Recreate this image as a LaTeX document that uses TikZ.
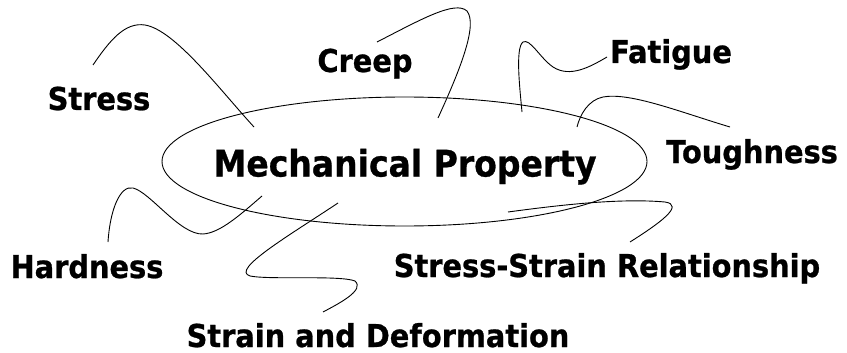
\documentclass[tikz,border=0pt]{standalone}
\usepackage{fontspec}
\setmainfont{DejaVu Sans}[FakeStretch=0.915, BoldFeatures={FakeBold=0.8}]
\newfontfamily\mainfam{DejaVu Sans}[FakeStretch=0.905, BoldFeatures={FakeBold=0.8}]
\tikzset{
  lbl/.style={font=\fontsize{31.5}{36}\selectfont\bfseries, inner sep=0pt, anchor=base},
  mainlbl/.style={font=\mainfam\fontsize{36.5}{42}\selectfont\bfseries, inner sep=0pt, anchor=base},
  conn/.style={draw=black, line width=0.9pt},
}
\begin{document}
\begin{tikzpicture}[x=1pt,y=-1pt]
\useasboundingbox (0,0) rectangle (847,353);
\draw[conn] (404.5,161.5) ellipse [x radius=242.5, y radius=64.5];
\node[mainlbl] (main) at (405,176.5) {Mechanical Property};
\node[lbl] (stress) at (99,110) {Stress};
\node[lbl] (creep) at (365,72) {Creep};
\node[lbl] (fatigue) at (671,63) {Fatigue};
\node[lbl] (tough) at (752,163) {Toughness};
\node[lbl] (hard) at (87,278) {Hardness};
\node[lbl] (ssr) at (607,277) {Stress-Strain Relationship};
\node[lbl] (strain) at (378,347) {Strain and Deformation};

\coordinate (s1) at (93,65);
\coordinate (s2) at (254,127);
\draw[conn] (s1) .. controls (110,40) and (125,22) .. (145,25) .. controls (175,30) and (220,90) .. (s2);

\coordinate (c1) at (377,42);
\coordinate (c2) at (438,118);
\draw[conn] (c1) .. controls (420,20) and (455,0) .. (467,11) .. controls (478,25) and (460,70) .. (c2);

\coordinate (f1) at (607,57);
\coordinate (f2) at (522,112);
\draw[conn] (f1) .. controls (590,67) and (570,78) .. (553,67) .. controls (540,58) and (530,38) .. (523,42) .. controls (515,48) and (520,90) .. (f2);

\coordinate (t1) at (730,127);
\coordinate (t2) at (577,127);
\draw[conn] (t1) .. controls (680,112) and (630,92) .. (603,97) .. controls (588,100) and (580,115) .. (t2);

\coordinate (h1) at (108,242);
\coordinate (h2) at (262,196);
\draw[conn] (h1) .. controls (110,210) and (120,185) .. (133,188) .. controls (150,192) and (180,235) .. (203,234) .. controls (220,233) and (240,215) .. (h2);

\coordinate (d1) at (338,203);
\coordinate (d2) at (323,312);
\draw[conn] (d1) .. controls (290,235) and (230,270) .. (250,276) .. controls (270,280) and (340,275) .. (355,281) .. controls (365,290) and (340,303) .. (d2);

\coordinate (r1) at (630,242);
\coordinate (r2) at (508,212);
\draw[conn] (r1) .. controls (660,223) and (685,205) .. (665,202) .. controls (620,198) and (560,205) .. (r2);
\end{tikzpicture}
\end{document}
